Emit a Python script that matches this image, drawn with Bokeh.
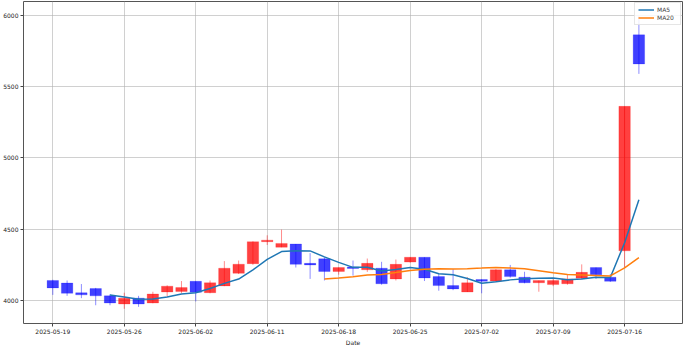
from bokeh.plotting import figure
from bokeh.models import Range1d, FixedTicker, ColumnDataSource, Legend, LegendItem, Title
from bokeh.embed import file_html
from bokeh.resources import INLINE

dates = ["2025-05-19", "2025-05-20", "2025-05-21", "2025-05-22", "2025-05-23",
         "2025-05-26", "2025-05-27", "2025-05-28", "2025-05-29", "2025-05-30",
         "2025-06-02", "2025-06-04", "2025-06-05", "2025-06-09", "2025-06-10",
         "2025-06-11", "2025-06-12", "2025-06-13", "2025-06-16", "2025-06-17",
         "2025-06-18", "2025-06-19", "2025-06-20", "2025-06-23", "2025-06-24",
         "2025-06-25", "2025-06-26", "2025-06-27", "2025-06-30", "2025-07-01",
         "2025-07-02", "2025-07-03", "2025-07-04", "2025-07-07", "2025-07-08",
         "2025-07-09", "2025-07-10", "2025-07-11", "2025-07-14", "2025-07-15",
         "2025-07-16", "2025-07-17"]

opens = [4140, 4122, 4054, 4083, 4032, 3975, 4016, 3982, 4059, 4063,
         4134, 4054, 4102, 4190, 4258, 4412, 4373, 4396, 4260, 4292,
         4203, 4235, 4215, 4226, 4151, 4269, 4303, 4167, 4104, 4059,
         4147, 4136, 4215, 4163, 4124, 4111, 4117, 4156, 4231, 4163,
         4348, 5864]
closes = [4088, 4050, 4039, 4032, 3982, 4016, 3975, 4045, 4100, 4090,
          4057, 4124, 4226, 4254, 4412, 4423, 4400, 4253, 4249, 4203,
          4231, 4224, 4260, 4117, 4253, 4303, 4158, 4104, 4081, 4124,
          4134, 4215, 4167, 4124, 4140, 4140, 4151, 4197, 4181, 4134,
          5362, 5660]
highs = [4145, 4140, 4115, 4088, 4043, 4054, 4032, 4061, 4106, 4136,
         4134, 4140, 4276, 4280, 4415, 4457, 4497, 4396, 4332, 4303,
         4231, 4280, 4294, 4271, 4287, 4303, 4303, 4185, 4219, 4163,
         4147, 4220, 4249, 4201, 4140, 4150, 4185, 4253, 4231, 4185,
         5362, 5995]
lows = [4039, 4032, 4016, 3966, 3966, 3941, 3955, 3980, 4027, 4050,
        3993, 4050, 4100, 4185, 4250, 4389, 4373, 4231, 4151, 4140,
        4181, 4174, 4200, 4110, 4140, 4265, 4136, 4068, 4072, 4059,
        4050, 4130, 4160, 4120, 4061, 4100, 4110, 4150, 4151, 4130,
        4231, 5590]

ma5 = [4038.2, 4023.8, 4008.8, 4010.0, 4023.6, 4045.2, 4053.4, 4083.2, 4119.4,
       4150.2, 4214.6, 4287.8, 4343.0, 4348.4, 4347.4, 4305.6, 4267.2, 4232.0,
       4233.4, 4207.0, 4217.0, 4231.4, 4218.2, 4187.0, 4179.8, 4154.0, 4120.2,
       4131.6, 4144.2, 4152.8, 4156.0, 4157.2, 4144.4, 4150.4, 4161.8, 4160.6,
       4405.0, 4706.8]
ma20 = [4150.9, 4158.1, 4166.8, 4177.8, 4182.1, 4195.6, 4210.0, 4219.1, 4222.1,
        4221.1, 4222.8, 4226.7, 4231.2, 4228.3, 4221.8, 4208.2, 4194.0, 4181.6,
        4178.8, 4175.4, 4171.9, 4228.5, 4300.3]

tick_idx = [0, 5, 10, 15, 20, 25, 30, 35, 40]
y_ticks = [4000, 4500, 5000, 5500, 6000]
x_title = "Date"

n = len(dates)
idx = list(range(n))
up = [c > o for o, c in zip(opens, closes)]
colors = ["#ff0000" if u else "#0000ff" for u in up]
src = ColumnDataSource(dict(
    x=idx, open=opens, close=closes, high=highs, low=lows,
    top=[max(o, c) for o, c in zip(opens, closes)],
    bottom=[min(o, c) for o, c in zip(opens, closes)],
    color=colors))

p = figure(width=684, height=345, output_backend="svg", toolbar_location=None,
           x_range=Range1d(-2.05, 44.05), y_range=Range1d(3838, 6098),
           min_border_left=2, min_border_right=2, min_border_top=1,
           min_border_bottom=0)

p.segment(x0="x", y0="low", x1="x", y1="high", color="color", line_alpha=0.45,
          line_width=1, source=src)
p.vbar(x="x", top="top", bottom="bottom", width=0.8, fill_color="color",
       fill_alpha=0.75, line_color="color", line_alpha=0.2, line_width=1,
       source=src)

l5 = p.line(idx[n - len(ma5):], ma5, line_color="#1f77b4", line_width=1.5)
l20 = p.line(idx[n - len(ma20):], ma20, line_color="#ff7f0e", line_width=1.5)

legend = Legend(items=[LegendItem(label="MA5", renderers=[l5]),
                       LegendItem(label="MA20", renderers=[l20])],
                location="top_right", label_text_font_size="6px",
                label_text_font="DejaVu Sans", label_height=7,
                glyph_height=7, glyph_width=16, spacing=1, padding=3,
                margin=1, border_line_color="#cccccc",
                background_fill_alpha=0.85, label_standoff=3)
p.add_layout(legend)

p.add_layout(Title(text=x_title, align="center", text_font_size="6px",
                   text_font="DejaVu Sans", text_font_style="normal",
                   text_color="#222222", standoff=0, offset=0), "below")

p.xaxis.ticker = FixedTicker(ticks=tick_idx)
p.xaxis.major_label_overrides = {i: dates[i] for i in tick_idx}
p.yaxis.ticker = FixedTicker(ticks=y_ticks)

for ax in (p.xaxis, p.yaxis):
    ax.major_label_text_font_size = "6px"
    ax.major_label_text_font = "DejaVu Sans"
    ax.major_label_text_color = "#222222"
    ax.major_label_standoff = 2
    ax.minor_tick_line_color = None
    ax.major_tick_in = 0
    ax.major_tick_out = 3
    ax.major_tick_line_color = "#444444"
    ax.axis_line_color = None

p.grid.grid_line_color = "#b0b0b0"
p.grid.grid_line_alpha = 0.6
p.grid.grid_line_width = 1
p.outline_line_color = "#555555"
p.outline_line_width = 1
p.outline_line_alpha = 1.0

open("out.html", "w").write(file_html(p, INLINE))
